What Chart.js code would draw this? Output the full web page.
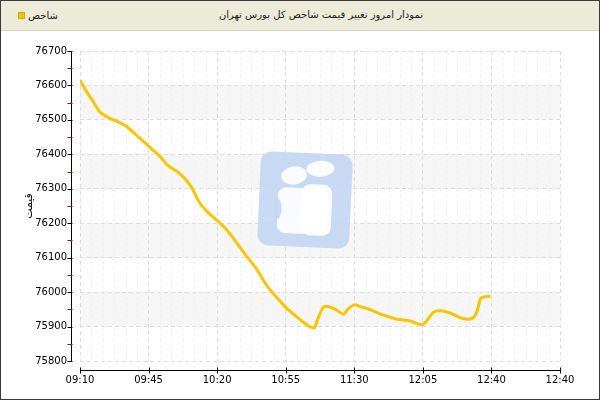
<!DOCTYPE html>
<html lang="fa">
<head>
    <meta charset="UTF-8">
    <title>نمودار امروز تغییر قیمت شاخص کل بورس تهران</title>
    <script src="https://cdn.jsdelivr.net/npm/chart.js"></script>
    <style>
        html, body { margin: 0; padding: 0; background: #fff; }
        #box {
            position: relative;
            width: 600px; height: 400px;
            box-sizing: border-box;
            border: 1px solid #3a3a3a;
            overflow: hidden;
        }
        #head {
            position: relative;
            height: 29px;
            background: #ecead9;
            border-bottom: 1px solid #d6d3c0;
            font-family: "DejaVu Sans", sans-serif;
            font-size: 10px;
            color: #222;
        }
        #title {
            position: absolute;
            right: 176px; top: 8px;
            direction: rtl;
            white-space: nowrap;
        }
        #legend {
            position: absolute;
            left: 17px; top: 8px;
            white-space: nowrap;
        }
        #legend .sw {
            display: inline-block;
            width: 5px; height: 5px;
            background: #f5c400;
            border: 1px solid #d9a900;
            vertical-align: middle;
            margin-right: 3px;
        }
        #legend span.t { direction: rtl; unicode-bidi: embed; vertical-align: middle; }
        canvas { display: block; }
    </style>
</head>
<body>
<div id="box">
    <div id="head">
        <div id="legend"><span class="sw"></span><span class="t">شاخص</span></div>
        <div id="title">نمودار امروز تغییر قیمت شاخص کل بورس تهران</div>
    </div>
    <canvas id="indexChart" width="598" height="369"></canvas>
</div>
<script>
    // minutes after 09:10, and index value
    var minutes = [0, 2.5, 5, 6, 10, 15, 20, 24, 30.5, 35, 41, 45, 49.5, 53.5, 57, 61, 65, 70, 75, 80, 85, 90,
                   95, 100, 105.5, 110.5, 115.5, 119.5, 121.5, 124.5, 128.5, 131.5, 134.5, 137, 140, 143, 146,
                   149, 155, 161.5, 168.5, 175, 180.5, 184, 189.5, 195, 200, 202.5, 204.5, 206.5, 209.5];
    var values = [76615, 76590, 76568, 76560, 76524, 76505, 76493, 76480, 76447, 76424, 76393, 76367, 76350, 76330,
                  76304, 76260, 76233, 76208, 76180, 76143, 76104, 76068, 76022, 75987, 75953, 75929, 75906,
                  75896, 75924, 75958, 75955, 75946, 75936, 75952, 75963, 75958, 75953, 75947, 75933, 75922,
                  75916, 75906, 75942, 75946, 75938, 75924, 75923, 75942, 75982, 75986, 75988];
    var xLabels = ['09:10', '09:45', '10:20', '10:55', '11:30', '12:05', '12:40', '12:40'];
    var yMin = 75800, yMax = 76700;
    var bands = [[76500, 76600], [76300, 76400], [76100, 76200], [75900, 76000]];

    var points = minutes.map(function (m, i) { return { x: m, y: values[i] }; });

    // light bands and minor grid lines under everything else
    var backdrop = {
        id: 'backdrop',
        beforeDraw: function (chart) {
            var c = chart.ctx, a = chart.chartArea, x = chart.scales.x, y = chart.scales.y;
            c.save();
            c.fillStyle = '#f6f6f6';
            bands.forEach(function (b) {
                var t = y.getPixelForValue(b[1]), bt = y.getPixelForValue(b[0]);
                c.fillRect(a.left, t, a.right - a.left, bt - t);
            });
            c.strokeStyle = '#efefef';
            c.lineWidth = 1;
            c.setLineDash([3, 3]);
            for (var k = 0; k <= 42; k++) {
                if (k % 6 === 0) continue;
                var px = Math.round(x.getPixelForValue(k * 35 / 6)) + 0.5;
                c.beginPath();
                c.moveTo(px, a.top);
                c.lineTo(px, a.bottom);
                c.stroke();
            }
            c.restore();
        }
    };

    // faded logo in the middle of the plot
    var logo = {
        id: 'logo',
        beforeDatasetsDraw: function (chart) {
            var c = chart.ctx;
            c.save();
            c.translate(304, 169);
            c.rotate(0.045);
            c.globalAlpha = 0.9;
            c.fillStyle = '#c3d7f3';
            c.beginPath();
            c.roundRect(-46, -47, 92, 94, 11);
            c.fill();
            c.fillStyle = '#ffffff';
            c.beginPath();
            c.ellipse(-12, -24, 13, 9, -0.2, 0, Math.PI * 2);
            c.fill();
            c.beginPath();
            c.ellipse(14, -32, 14, 8, -0.1, 0, Math.PI * 2);
            c.fill();
            c.beginPath();
            c.roundRect(-27, -12, 50, 46, 8);
            c.fill();
            c.beginPath();
            c.roundRect(-4, -16, 31, 51, 9);
            c.fill();
            c.fillStyle = '#c3d7f3';
            c.beginPath();
            c.ellipse(-27, 10, 4, 10, 0, 0, Math.PI * 2);
            c.fill();
            c.restore();
        }
    };

    // axis lines set off from the plot, with tick marks
    var axes = {
        id: 'axes',
        afterDraw: function (chart) {
            var c = chart.ctx, a = chart.chartArea, x = chart.scales.x, y = chart.scales.y;
            var ax = a.left - 8.5, ay = a.bottom + 9.5;
            c.save();
            c.lineWidth = 1;
            c.strokeStyle = '#000';
            c.beginPath();
            c.moveTo(ax, a.top);
            c.lineTo(ax, a.bottom);
            c.moveTo(a.left, ay);
            c.lineTo(a.right, ay);
            c.stroke();
            for (var v = yMin; v <= yMax; v += 50) {
                var py = Math.round(y.getPixelForValue(v)) + 0.5;
                c.strokeStyle = (v % 100 === 0) ? '#000' : '#b00000';
                c.beginPath();
                c.moveTo(ax - 4, py);
                c.lineTo(ax + 1, py);
                c.stroke();
            }
            c.strokeStyle = '#000';
            for (var k = 0; k < xLabels.length; k++) {
                var px = Math.round(x.getPixelForValue(k * 35)) + 0.5;
                c.beginPath();
                c.moveTo(px, ay - 3);
                c.lineTo(px, ay + 3);
                c.stroke();
            }
            c.restore();
        }
    };

    var tickFont = { family: 'DejaVu Sans', size: 10 };

    new Chart(document.getElementById('indexChart'), {
        type: 'line',
        data: {
            datasets: [{
                label: 'شاخص',
                data: points,
                borderColor: '#f7c600',
                borderWidth: 3,
                pointRadius: 0,
                tension: 0.25,
                fill: false
            }]
        },
        options: {
            responsive: false,
            devicePixelRatio: 1,
            animation: false,
            layout: { padding: { top: 20, right: 39, left: 0, bottom: 0 } },
            plugins: { legend: { display: false }, tooltip: { enabled: false } },
            scales: {
                x: {
                    type: 'linear',
                    min: 0,
                    max: 245,
                    afterFit: function (s) { s.height = 39; },
                    afterBuildTicks: function (s) {
                        s.ticks = xLabels.map(function (l, i) { return { value: i * 35 }; });
                    },
                    ticks: {
                        font: tickFont,
                        color: '#000',
                        padding: 13,
                        maxRotation: 0,
                        autoSkip: false,
                        callback: function (v) { return xLabels[Math.round(v / 35)]; }
                    },
                    grid: { color: '#dcdcdc', drawTicks: false },
                    border: { display: false, dash: [4, 3] }
                },
                y: {
                    min: yMin,
                    max: yMax,
                    afterFit: function (s) { s.width = 79; },
                    ticks: {
                        stepSize: 50,
                        font: tickFont,
                        color: '#000',
                        padding: 13,
                        callback: function (v) { return v % 100 === 0 ? String(v) : ''; }
                    },
                    grid: {
                        drawTicks: false,
                        color: function (ctx) { return ctx.tick && ctx.tick.value % 100 === 0 ? '#dcdcdc' : 'rgba(0,0,0,0)'; }
                    },
                    border: { display: false, dash: [4, 3] },
                    title: {
                        display: true,
                        text: 'قیمت',
                        font: { family: 'DejaVu Sans', size: 11 },
                        color: '#000',
                        padding: { top: 22, bottom: 0 }
                    }
                }
            }
        },
        plugins: [backdrop, logo, axes]
    });
</script>
</body>
</html>
